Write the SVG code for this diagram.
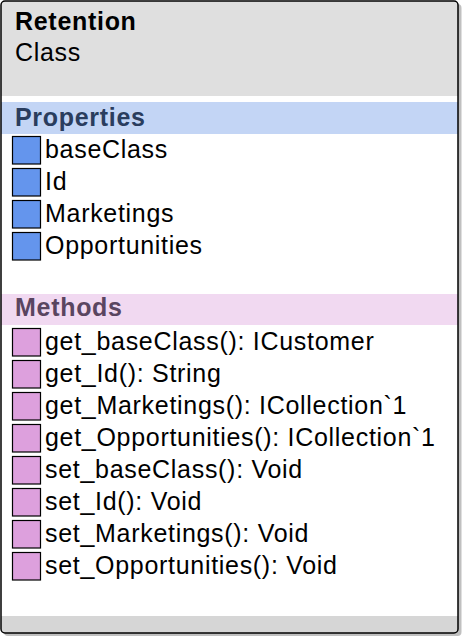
<svg xmlns="http://www.w3.org/2000/svg" width="466" height="640" viewBox="0 0 466 640">
<style>
.t{font-family:"Liberation Sans",Arial,sans-serif;font-size:25px;letter-spacing:0.7px;fill:#000}
.b{font-weight:bold}
.pi{fill:#6495ed;stroke:#000;stroke-width:1.2}
.mi{fill:#dda0dd;stroke:#000;stroke-width:1.2}
</style>
<g id="class-Retention">
<rect x="4" y="4" width="457.5" height="632" rx="4" fill="#8c8c8c" opacity="0.55"/>
<rect x="1" y="1" width="457" height="632" rx="4" fill="#fff"/>
<path d="M1,96 V5 a4,4 0 0 1 4,-4 H454 a4,4 0 0 1 4,4 V96 Z" fill="#dfdfdf"/>
<rect x="1" y="102" width="457" height="32" fill="#c3d5f5"/>
<rect x="1" y="294" width="457" height="31" fill="#f1d9f1"/>
<path d="M1,616 H458 V629 a4,4 0 0 1 -4,4 H5 a4,4 0 0 1 -4,-4 Z" fill="#d6d6d6"/>
<rect x="1" y="1" width="457" height="632" rx="4" fill="none" stroke="#000" stroke-width="1.5"/>
<text class="t b" x="15" y="30">Retention</text>
<text class="t" x="15" y="61">Class</text>
<text class="t b" x="15" y="126" style="fill:#2a3d5e">Properties</text>
<rect class="pi" x="12.5" y="136.5" width="28" height="27.5"/>
<text class="t" x="45" y="158">baseClass</text>
<rect class="pi" x="12.5" y="168.5" width="28" height="27.5"/>
<text class="t" x="45" y="190">Id</text>
<rect class="pi" x="12.5" y="200.5" width="28" height="27.5"/>
<text class="t" x="45" y="222">Marketings</text>
<rect class="pi" x="12.5" y="232.5" width="28" height="27.5"/>
<text class="t" x="45" y="254">Opportunities</text>
<text class="t b" x="15" y="316" style="fill:#5a4560">Methods</text>
<rect class="mi" x="12.5" y="328.5" width="28" height="27.5"/>
<text class="t" x="45" y="350">get_baseClass(): ICustomer</text>
<rect class="mi" x="12.5" y="360.5" width="28" height="27.5"/>
<text class="t" x="45" y="382">get_Id(): String</text>
<rect class="mi" x="12.5" y="392.5" width="28" height="27.5"/>
<text class="t" x="45" y="414">get_Marketings(): ICollection`1</text>
<rect class="mi" x="12.5" y="424.5" width="28" height="27.5"/>
<text class="t" x="45" y="446">get_Opportunities(): ICollection`1</text>
<rect class="mi" x="12.5" y="456.5" width="28" height="27.5"/>
<text class="t" x="45" y="478">set_baseClass(): Void</text>
<rect class="mi" x="12.5" y="488.5" width="28" height="27.5"/>
<text class="t" x="45" y="510">set_Id(): Void</text>
<rect class="mi" x="12.5" y="520.5" width="28" height="27.5"/>
<text class="t" x="45" y="542">set_Marketings(): Void</text>
<rect class="mi" x="12.5" y="552.5" width="28" height="27.5"/>
<text class="t" x="45" y="574">set_Opportunities(): Void</text>
</g>
<g id="connectors"/>
</svg>
